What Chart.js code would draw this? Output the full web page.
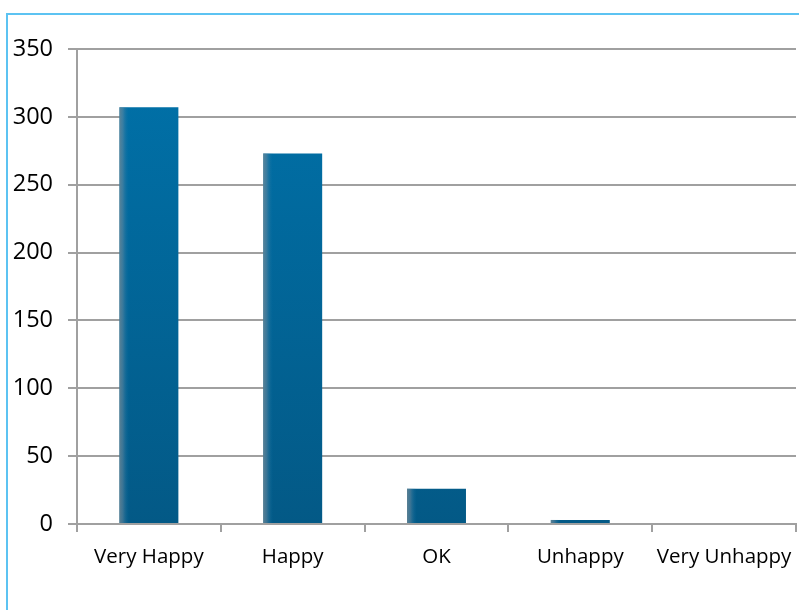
<!DOCTYPE html>
<html lang="en">
<head>
    <meta charset="UTF-8">
    <title>Happiness</title>
    <script src="https://cdn.jsdelivr.net/npm/chart.js"></script>
    <style>
        body { margin: 0; background: #fff; }
        #wrap { position: relative; width: 799px; height: 610px; overflow: hidden; }
        #frame { position: absolute; left: 6px; top: 13px; width: 900px; height: 700px; border: 2px solid #5cc3f2; }
        canvas { position: absolute; left: 0; top: 0; }
    </style>
</head>
<body>
<div id="wrap">
    <div id="frame"></div>
    <canvas id="chart" width="799" height="610"></canvas>
</div>
<script>
    const categories = ['Very Happy', 'Happy', 'OK', 'Unhappy', 'Very Unhappy'];
    const answers = [307, 273, 26, 3, 0];
    const yTicks = [0, 50, 100, 150, 200, 250, 300, 350];

    // vertical shading of the bars, lighter at the top
    function barFill(ctx) {
        const area = ctx.chart.chartArea;
        if (!area) return '#0070a8';
        const g = ctx.chart.ctx.createLinearGradient(0, area.top, 0, area.bottom);
        g.addColorStop(0, '#0072aa');
        g.addColorStop(1, '#035986');
        return g;
    }

    // greyish glow on the left side of each bar
    const leftEdge = {
        id: 'leftEdge',
        afterDatasetsDraw(chart) {
            const c = chart.ctx;
            chart.getDatasetMeta(0).data.forEach(bar => {
                const h = bar.base - bar.y;
                if (h <= 0) return;
                const x0 = bar.x - bar.width / 2;
                const g = c.createLinearGradient(x0, 0, x0 + 10, 0);
                g.addColorStop(0, 'rgba(120,140,150,0.75)');
                g.addColorStop(0.35, 'rgba(110,140,160,0.5)');
                g.addColorStop(1, 'rgba(0,112,168,0)');
                c.save();
                c.fillStyle = g;
                c.fillRect(x0, bar.y, 10, h);
                c.restore();
            });
        }
    };

    new Chart(document.getElementById('chart'), {
        type: 'bar',
        data: {
            labels: categories,
            datasets: [{
                data: answers,
                backgroundColor: barFill,
                borderWidth: 0,
                barPercentage: 0.41,
                categoryPercentage: 1
            }]
        },
        options: {
            responsive: false,
            animation: false,
            layout: { padding: { top: 49, right: 3, left: 0, bottom: 0 } },
            plugins: { legend: { display: false }, tooltip: { enabled: false } },
            scales: {
                x: {
                    grid: { offset: true, drawOnChartArea: false, color: '#a0a0a0', lineWidth: 2, tickLength: 8 },
                    border: { color: '#a0a0a0', width: 2 },
                    ticks: { color: '#000', padding: 13, font: { family: 'Open Sans', size: 20.5 } },
                    afterFit: s => { s.height = 86; s.paddingLeft = 0; s.paddingRight = 0; }
                },
                y: {
                    min: 0,
                    max: 350,
                    afterBuildTicks: s => { s.ticks = yTicks.map(v => ({ value: v })); },
                    grid: { color: '#a0a0a0', lineWidth: 2, tickLength: 9 },
                    border: { color: '#a0a0a0', width: 2 },
                    ticks: { color: '#000', padding: 15, font: { family: 'Open Sans', size: 23.5 } },
                    afterFit: s => { s.width = 77; }
                }
            }
        },
        plugins: [leftEdge]
    });
</script>
</body>
</html>
